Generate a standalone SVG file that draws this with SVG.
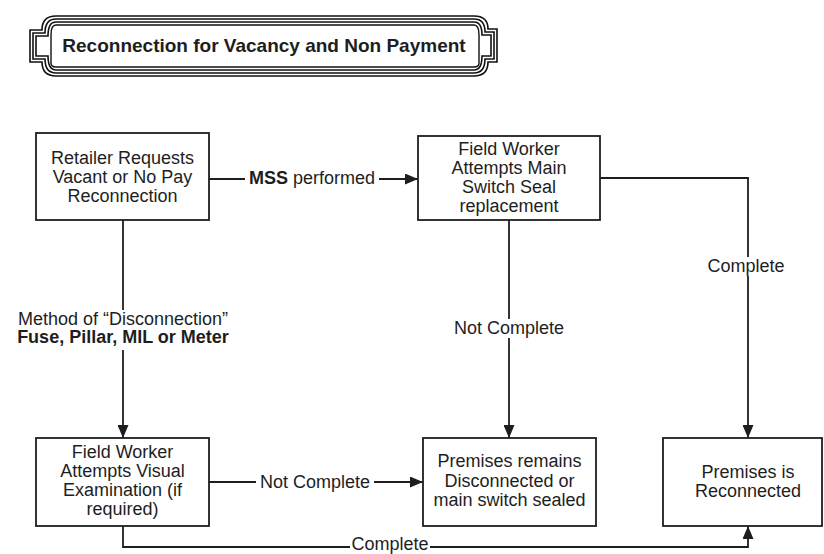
<svg xmlns="http://www.w3.org/2000/svg" width="824" height="554" viewBox="0 0 824 554">
<style>
  .box { fill: #ffffff; stroke: #1e1e1e; stroke-width: 1.8; }
  .frame { fill: none; stroke: #111111; stroke-width: 1.6; }
  .t { font-family: "Liberation Sans", Arial, sans-serif; font-size: 18px; fill: #1e1e1e; text-anchor: middle; }
  .b { font-weight: bold; }
  .ttl { font-size: 19px; }
  .edge { fill: none; stroke: #1e1e1e; stroke-width: 1.8; }
  .lblbg { fill: #ffffff; stroke: none; }
</style>
<defs>
  <marker id="arr" markerUnits="userSpaceOnUse" markerWidth="13" markerHeight="11" refX="13" refY="5.5" viewBox="0 0 13 11" orient="auto">
    <path d="M0,0 L13,5.5 L0,11 z" fill="#1e1e1e"/>
  </marker>
</defs>
<rect width="824" height="554" fill="#ffffff"/>

<g id="title">
  <path d="M 56 16 H 474 Q 488 16 488 29 H 497 V 62 H 488 Q 488 76 474 76 H 56 Q 42 76 42 62 H 30 V 30 H 42 Q 42 16 56 16 Z" fill="#ffffff" class="frame"/>
  <path d="M 56 19 H 474 Q 485 19 485 32 H 494 V 59 H 485 Q 485 73 474 73 H 56 Q 45 73 45 59 H 33 V 33 H 45 Q 45 19 56 19 Z" class="frame"/>
  <path d="M 56 22 H 474 Q 482 22 482 35 H 491 V 56 H 482 Q 482 70 474 70 H 56 Q 48 70 48 56 H 36 V 36 H 48 Q 48 22 56 22 Z" class="frame"/>
  <path d="M 56 25 H 474 Q 479 25 479 35 V 63 Q 479 67 474 67 H 56 Q 51 67 51 63 V 35 Q 51 25 56 25 Z" fill="#ffffff" stroke="#111111" stroke-width="1.4"/>
  <text class="t b ttl" x="264" y="52">Reconnection for Vacancy and Non Payment</text>
</g>

<g id="connectors">
  <path class="edge" d="M 209 179 H 418" marker-end="url(#arr)"/>
  <path class="edge" d="M 123 220 V 438" marker-end="url(#arr)"/>
  <path class="edge" d="M 600 178 H 748 V 438" marker-end="url(#arr)"/>
  <path class="edge" d="M 509 220 V 438" marker-end="url(#arr)"/>
  <path class="edge" d="M 209 482 H 423" marker-end="url(#arr)"/>
  <path class="edge" d="M 123 526 V 547 H 748 V 526" marker-end="url(#arr)"/>

  <rect class="lblbg" x="245" y="170" width="134" height="18"/>
  <text class="t" x="312" y="184"><tspan class="b">MSS</tspan> performed</text>

  <rect class="lblbg" x="10" y="310" width="228" height="40"/>
  <text class="t" x="123" y="325">Method of “Disconnection”</text>
  <text class="t b" x="123" y="343">Fuse, Pillar, MIL or Meter</text>

  <rect class="lblbg" x="704" y="257" width="82" height="19"/>
  <text class="t" x="746" y="272">Complete</text>

  <rect class="lblbg" x="450" y="319" width="118" height="19"/>
  <text class="t" x="509" y="334">Not Complete</text>

  <rect class="lblbg" x="256" y="473" width="118" height="19"/>
  <text class="t" x="315" y="488">Not Complete</text>

  <rect class="lblbg" x="350" y="538" width="80" height="16"/>
  <text class="t" x="390" y="550">Complete</text>
</g>

<g id="retailer">
  <rect class="box" x="36" y="133" width="173" height="87"/>
  <text class="t" x="122.5" y="163.5">Retailer Requests</text>
  <text class="t" x="122.5" y="183">Vacant or No Pay</text>
  <text class="t" x="122.5" y="202">Reconnection</text>
</g>

<g id="mainswitch">
  <rect class="box" x="418" y="136" width="182" height="84"/>
  <text class="t" x="509" y="154.5">Field Worker</text>
  <text class="t" x="509" y="174">Attempts Main</text>
  <text class="t" x="509" y="193">Switch Seal</text>
  <text class="t" x="509" y="212">replacement</text>
</g>

<g id="visual">
  <rect class="box" x="36" y="438" width="173" height="88"/>
  <text class="t" x="122.5" y="457.5">Field Worker</text>
  <text class="t" x="122.5" y="477">Attempts Visual</text>
  <text class="t" x="122.5" y="496">Examination (if</text>
  <text class="t" x="122.5" y="515">required)</text>
</g>

<g id="remains">
  <rect class="box" x="423" y="438" width="173" height="88"/>
  <text class="t" x="509.5" y="466.5">Premises remains</text>
  <text class="t" x="509.5" y="486.5">Disconnected or</text>
  <text class="t" x="509.5" y="506">main switch sealed</text>
</g>

<g id="reconnected">
  <rect class="box" x="663" y="438" width="159" height="88"/>
  <text class="t" x="748" y="478">Premises is</text>
  <text class="t" x="748" y="497">Reconnected</text>
</g>
</svg>
